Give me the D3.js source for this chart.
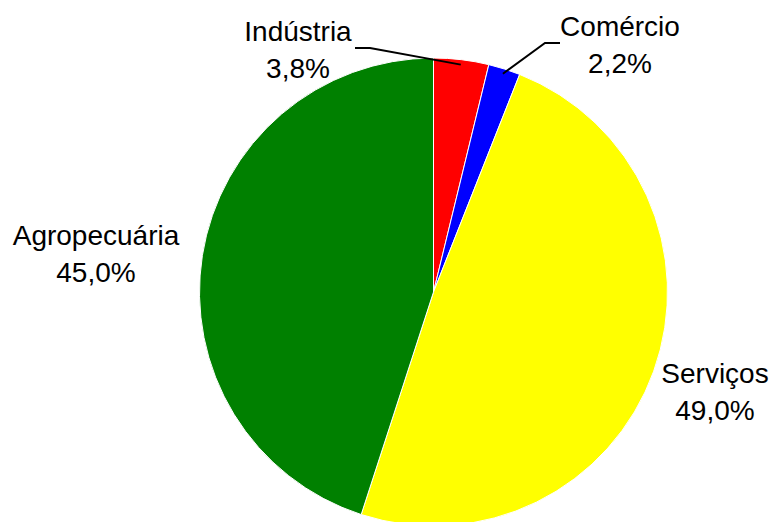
<!DOCTYPE html>
<html>
<head>
<meta charset="utf-8">
<script src="https://cdn.jsdelivr.net/npm/d3@7"></script>
<style>
  body { margin: 0; background: #fff; }
  svg text { font-family: Arial, "Liberation Sans", sans-serif; font-size: 28px; fill: #000; }
</style>
</head>
<body>
<div id="chart"></div>
<script>
(function() {
"use strict";
var categories = ["Indústria", "Comércio", "Serviços", "Agropecuária"];
var values = [3.8, 2.2, 49.0, 45.0];
var valueLabels = ["3,8%", "2,2%", "49,0%", "45,0%"];
var colors = ["#FF0000", "#0000FF", "#FFFF00", "#008000"];

var width = 771, height = 522;
var cx = 433.5, cy = 292, radius = 234;
// label anchors (center, first baseline) and leader elbows
var labelPos = [[298, 41], [620, 36], [715, 383], [96, 245]];
var leaders = [[355, 370], [560, 545], null, null];

var svg = d3.select("#chart").append("svg")
  .attr("width", width)
  .attr("height", height);

var g = svg.append("g").attr("transform", "translate(" + cx + "," + cy + ")");

var pie = d3.pie().sort(null).value(function(d) { return d; });
var arcs = pie(values);
var arc = d3.arc().innerRadius(0).outerRadius(radius);

g.selectAll("path.slice")
  .data(arcs)
  .enter()
  .append("path")
  .attr("class", "slice")
  .attr("d", arc)
  .attr("fill", function(d, i) { return colors[i]; })
  .attr("stroke", "#fff")
  .attr("stroke-width", 1);

// leader lines
arcs.forEach(function(d, i) {
  if (!leaders[i]) { return; }
  var mid = (d.startAngle + d.endAngle) / 2;
  var r = radius - 5;
  var ex = cx + r * Math.sin(mid), ey = cy - r * Math.cos(mid);
  var ly = labelPos[i][1] + 7;
  svg.append("polyline")
    .attr("points", [[leaders[i][0], ly], [leaders[i][1], ly], [ex, ey]].join(" "))
    .attr("fill", "none")
    .attr("stroke", "#000")
    .attr("stroke-width", 2);
});

var labels = svg.selectAll("text.lbl")
  .data(categories)
  .enter()
  .append("text")
  .attr("class", "lbl")
  .attr("text-anchor", "middle")
  .attr("x", function(d, i) { return labelPos[i][0]; })
  .attr("y", function(d, i) { return labelPos[i][1]; });
labels.append("tspan").text(function(d) { return d; });
labels.append("tspan")
  .attr("x", function(d, i) { return labelPos[i][0]; })
  .attr("dy", 37)
  .text(function(d, i) { return valueLabels[i]; });
})();
</script>
</body>
</html>
